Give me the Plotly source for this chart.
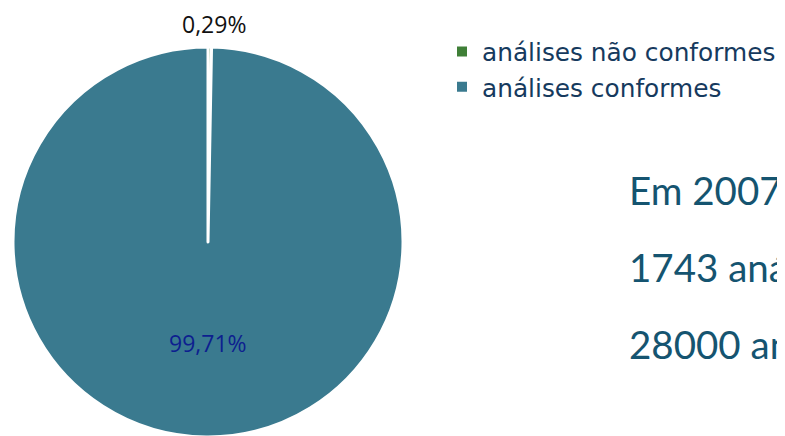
import plotly.graph_objects as go

labels = ["análises não conformes", "análises conformes"]
values = [0.29, 99.71]
colors = ["#3f7f37", "#3a7a8f"]
label_colors = ["#111111", "#0d1f8f"]
side_lines = ["Em 2007:", "1743 análises", "28000 análises"]

# page body has an 8px margin; positions below are in window pixels
OX, OY = 8, 8
W, H = 785, 436

def px(x):
    return (x - OX) / W

def py(y):
    return 1 - (y - OY) / H

fig = go.Figure()
fig.add_trace(go.Pie(
    labels=labels, values=values, sort=False, direction="clockwise", rotation=0,
    marker=dict(colors=colors, line=dict(color="white", width=3)),
    textinfo="none", hoverinfo="label+percent",
    domain=dict(x=[px(13), px(403)], y=[py(437), py(47)]),
))

def fmt(v):
    return f"{v:.2f}".replace(".", ",") + "%"

fig.add_annotation(x=px(214), y=py(24), xref="paper", yref="paper",
                   xanchor="center", yanchor="middle",
                   text=fmt(values[0]), showarrow=False,
                   font=dict(size=23, color=label_colors[0], family="Open Sans"))
fig.add_annotation(x=px(208), y=py(343), xref="paper", yref="paper",
                   xanchor="center", yanchor="middle",
                   text=fmt(values[1]), showarrow=False,
                   font=dict(size=23, color=label_colors[1], family="Open Sans"))

for i, t in enumerate(side_lines):
    fig.add_annotation(x=px(627), y=py(190 + 77 * i), xref="paper", yref="paper",
                       text=t, showarrow=False, xanchor="left", yanchor="middle",
                       font=dict(size=38.5, color="#155470", family="Lato"))

fig.update_layout(
    width=W, height=H, margin=dict(l=0, r=0, t=0, b=0),
    paper_bgcolor="white", plot_bgcolor="white",
    showlegend=True,
    legend=dict(x=px(442), y=py(29), xanchor="left", yanchor="top",
                font=dict(size=24.8, color="#163a5e", family="DejaVu Sans"),
                itemsizing="constant", bgcolor="rgba(0,0,0,0)"),
)

fig.write_html("out.html")
